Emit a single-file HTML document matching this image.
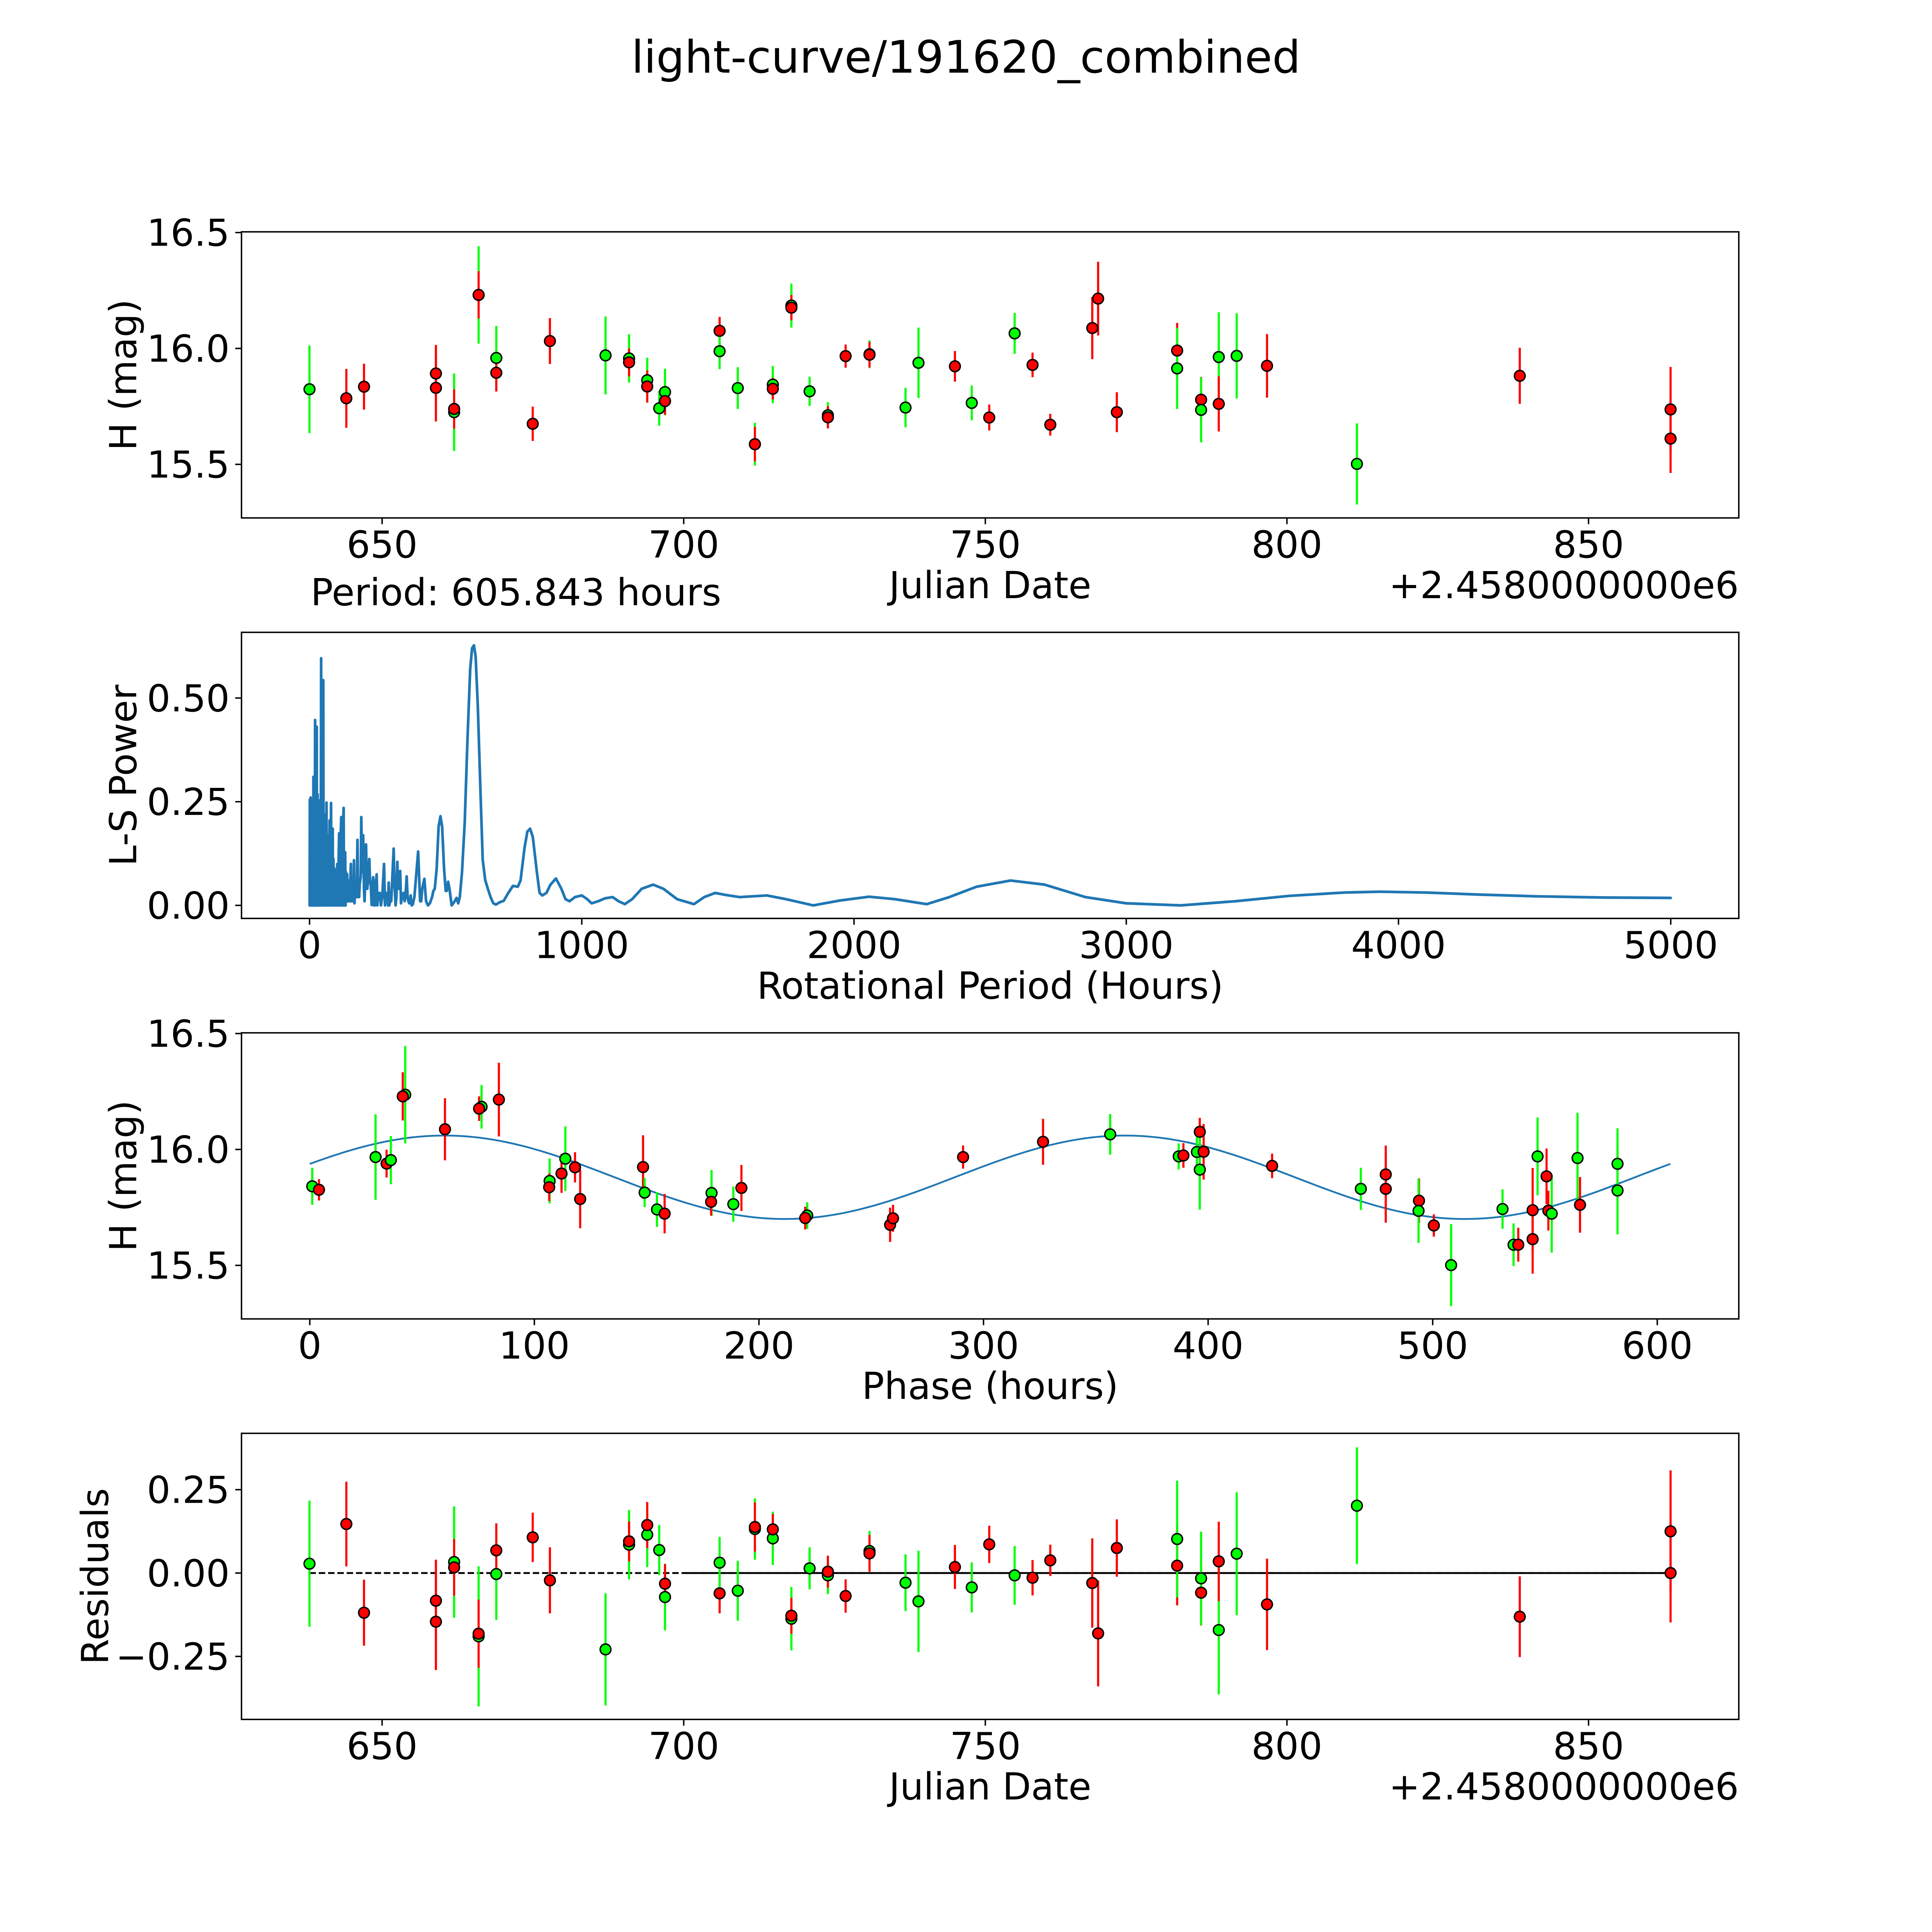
<!DOCTYPE html>
<html><head><meta charset="utf-8"><style>
html,body{margin:0;padding:0;background:#fff;overflow:hidden;width:100vw;height:100vh}
svg{display:block;width:100vw;height:100vh}
text{font-family:"DejaVu Sans","Liberation Sans",sans-serif;fill:#000}
</style></head><body>
<svg id="fig" viewBox="0 0 5400 5400" preserveAspectRatio="none" xmlns="http://www.w3.org/2000/svg">
<rect width="5400" height="5400" fill="#fff"/>
<text x="2700" y="203" font-size="125" text-anchor="middle">light-curve/191620_combined</text>
<text x="1442" y="1692" font-size="104" text-anchor="middle">Period: 605.843 hours</text>
</svg>
<script>
// ---- Panel 1 & 4 data (Julian date offset from 2458000) ----
const jd = [637.96,644.07,647.0,658.92,658.92,661.94,661.94,666.0,666.0,668.93,668.93,674.97,677.82,687.04,690.94,690.94,693.95,693.95,695.94,696.9,696.9,705.95,705.95,708.96,711.8,711.8,714.77,714.77,717.85,717.85,720.87,723.9,723.9,726.84,730.8,730.8,736.77,738.92,744.96,747.75,750.65,754.86,757.83,760.77,767.73,768.7,771.8,781.8,781.8,785.77,785.77,788.7,788.7,791.67,796.7,811.6,838.6,863.6,863.6];
const mag = [15.824,15.785,15.835,15.892,15.830,15.725,15.739,16.231,16.231,15.959,15.895,15.675,16.032,15.970,15.957,15.94,15.863,15.836,15.742,15.812,15.773,16.076,15.988,15.829,15.587,15.587,15.844,15.826,16.185,16.176,15.815,15.712,15.703,15.967,15.975,15.973,15.745,15.938,15.923,15.765,15.702,16.065,15.929,15.671,16.088,16.215,15.725,15.991,15.914,15.779,15.735,15.963,15.761,15.968,15.925,15.502,15.882,15.737,15.611];
const magErr = [0.189,0.127,0.099,0.123,0.145,0.167,0.085,0.21,0.102,0.138,0.081,0.074,0.099,0.168,0.104,0.06,0.097,0.069,0.075,0.10,0.059,0.06,0.077,0.09,0.092,0.074,0.08,0.046,0.095,0.054,0.063,0.056,0.048,0.05,0.06,0.055,0.085,0.152,0.066,0.075,0.056,0.088,0.053,0.047,0.134,0.159,0.086,0.119,0.175,0.098,0.14,0.193,0.119,0.184,0.137,0.175,0.121,0.183,0.148];
const band = ['g','r','r','r','r','g','r','g','r','g','r','r','r','g','g','r','g','r','g','g','r','r','g','g','g','r','g','r','g','r','g','g','r','r','g','r','g','g','r','g','r','g','r','r','r','r','r','r','g','r','g','g','r','g','r','g','r','r','r'];
const resid = [0.028,0.147,-0.119,-0.083,-0.146,0.033,0.017,-0.19,-0.182,-0.003,0.068,0.107,-0.022,-0.229,0.085,0.095,0.115,0.144,0.069,-0.072,-0.032,-0.061,0.031,-0.053,0.132,0.138,0.104,0.131,-0.137,-0.128,0.014,-0.007,0.004,-0.069,0.066,0.059,-0.029,-0.085,0.018,-0.043,0.086,-0.007,-0.014,0.038,-0.030,-0.181,0.075,0.022,0.102,-0.059,-0.016,-0.171,0.035,0.058,-0.094,0.202,-0.131,0.125,0.0];
// ---- Panel 3 data (folded) ----
const phase = [1.1,4.1,29.3,34.2,36.1,42.5,41.4,60.2,76.5,75.4,84.2,106.8,106.6,112.1,113.8,118.1,120.4,148.4,149.1,154.6,158.0,178.9,178.7,188.6,192.2,221.5,220.6,258.4,259.7,290.9,326.5,356.4,386.9,389.0,395.0,396.3,398.0,396.3,428.5,468.0,479.1,479.1,493.9,493.7,500.5,508.2,531.1,536.0,538.1,544.5,544.5,546.7,550.7,551.5,553.0,565.6,564.5,582.3,582.3];
const phaseMag = [15.841,15.826,15.967,15.939,15.954,16.236,16.229,16.087,16.184,16.176,16.215,15.864,15.837,15.896,15.96,15.923,15.786,15.924,15.814,15.741,15.723,15.812,15.774,15.764,15.834,15.715,15.704,15.675,15.703,15.967,16.033,16.065,15.97,15.974,15.989,16.076,15.99,15.913,15.929,15.83,15.892,15.83,15.779,15.735,15.672,15.501,15.743,15.589,15.589,15.738,15.613,15.97,15.884,15.736,15.723,15.761,15.963,15.938,15.823];
const phaseErr = [0.08,0.046,0.184,0.06,0.104,0.21,0.104,0.134,0.094,0.053,0.159,0.097,0.059,0.083,0.139,0.065,0.126,0.137,0.063,0.075,0.085,0.099,0.059,0.076,0.099,0.057,0.049,0.074,0.058,0.05,0.099,0.088,0.056,0.053,0.077,0.06,0.12,0.173,0.053,0.091,0.125,0.146,0.096,0.138,0.048,0.177,0.085,0.092,0.073,0.182,0.149,0.168,0.12,0.086,0.168,0.12,0.195,0.153,0.189];
const phaseBand = ['g','r','g','r','g','g','r','r','g','r','r','g','r','r','g','r','r','r','g','g','r','g','r','g','r','g','r','r','r','r','r','g','g','r','g','r','r','g','r','g','r','r','r','g','r','g','g','g','r','r','r','g','r','r','g','r','g','g','g'];
const modelMean = 15.88, modelAmp = 0.18, modelPeak = 60, modelHalfPeriod = 302.92, foldPeriod = 605.843;
// ---- Panel 2 data (Lomb-Scargle) ----
const lsPeriod = [0.3,1,1.8,2.5,3.2,4,4.8,5.5,6.2,7,7.8,8.5,9.2,10,10.8,11.5,12.2,13,13.6,14.2,14.9,15.6,16.3,17,17.7,18.4,19.1,20.3,21,21.8,22.5,23.2,24,24.8,25.6,26.5,27.3,28.1,28.8,29.5,30.2,31,31.8,32.6,33.4,34.7,35.5,36.3,37.1,38,38.8,39.6,40.4,41.5,42.6,43.6,44.5,45.3,46.2,47,48,48.9,50.4,51.5,52.5,53.5,54.5,55.5,56.5,57.5,58.5,59.5,60.5,61.4,62.3,63.3,64.5,65.5,66.5,67.5,68.5,69.5,70.5,71.5,72.6,73.7,74.8,76,77,79,80.2,81.5,82.7,84,85,86,87.8,89,90.5,91.5,92.5,93.7,95,96.5,98,99.5,101.8,103,104.5,106,107,108.6,110,111.5,113,114,116.4,117.8,119,120.5,122,125.2,126.5,128,129.5,130.9,132.3,134,135.5,138.2,140,142,144,146,148,151.7,153.5,156,158,160,161.5,163,165,167,169,171,173,176,178,180,182,184,186,188,190,192.5,194,197,200,202,204,207.5,210,212,215,217,219.4,222,225,228,231,233.5,236,238,240,243,246.5,249,252,255,258,262,267,273.6,277,280,283,286,288,290.7,293,297,300,308.9,312,316,319,322.5,325,328,332.9,336,339,342,345,349,352,356.8,360,363,366,371.3,375,379,385,390,398.8,406,410,414,421.7,428,435,442,450,455,460,467,474,480.8,487,494,500,504,509,514,522,528,533,540.3,546,552,560,570,580,590,597,603.8,610,618,628,636,645.3,655,665,675,684.6,700,713,730,747,765,775,790,800,810,820,835,845,855,870,885,905,925,940,955,975,1000,1020,1036,1060,1085,1113,1135,1158,1185,1220,1262,1300,1350,1412,1450,1490,1530,1580,1630,1680,1750,1850,1950,2055,2150,2267,2350,2450,2575,2700,2850,3000,3200,3400,3600,3800,3932,4100,4300,4500,4750,5000];
const lsPower = [0,0.255,0,0.24,0,0.26,0,0.2,0,0.23,0,0.21,0,0.19,0,0.22,0,0.25,0,0.31,0,0.2,0,0.27,0,0.2,0,0.447,0,0.25,0,0.22,0,0.3,0,0.431,0,0.2,0,0.268,0,0.2,0,0.23,0,0.253,0,0.2,0,0.18,0,0.15,0,0.2,0.596,0,0.2,0,0.18,0,0.25,0,0.543,0,0.2,0,0.22,0,0.18,0,0.15,0,0.2,0,0.248,0,0.14,0,0.17,0,0.13,0,0.15,0,0.12,0.205,0,0.16,0,0.247,0,0.14,0,0.15,0.185,0,0.112,0,0.09,0,0.086,0,0.07,0,0.08,0,0.10,0,0.08,0,0.12,0.174,0,0.12,0,0.16,0.213,0,0.15,0,0.18,0.235,0,0.1,0,0.128,0,0.08,0.01,0.075,0.01,0.06,0.01,0.06,0.01,0.10,0.01,0.06,0.01,0.04,0.01,0.109,0.005,0.04,0.02,0.05,0.02,0.158,0.02,0.03,0.02,0.05,0.06,0.07,0.213,0.12,0.08,0.169,0.04,0.01,0.05,0.147,0.06,0.04,0.06,0.09,0.112,0.06,0.05,0.001,0.05,0.068,0.0,0.06,0.0,0.05,0.075,0.0,0.03,0.02,0.03,0.0,0.02,0.10,0.0,0.03,0.025,0.03,0.0,0.055,0.0,0.015,0.01,0.137,0.05,0.0,0.02,0.105,0.04,0.04,0.083,0.005,0.02,0.02,0.03,0.01,0.02,0.070,0.02,0.01,0.005,0.024,0.0,0.002,0.02,0.06,0.13,0.01,0.01,0.04,0.064,0.01,0.0,0.005,0.02,0.035,0.04,0.09,0.19,0.215,0.19,0.09,0.035,0.035,0.057,0.04,0.0,0.005,0.01,0.018,0.005,0.02,0.08,0.2,0.4,0.57,0.62,0.627,0.6,0.48,0.27,0.11,0.061,0.04,0.02,0.005,0.002,0.008,0.011,0.03,0.047,0.045,0.06,0.14,0.178,0.185,0.165,0.08,0.03,0.024,0.03,0.05,0.065,0.04,0.015,0.01,0.02,0.024,0.015,0.005,0.01,0.017,0.02,0.01,0.003,0.015,0.04,0.05,0.04,0.015,0.003,0.02,0.03,0.025,0.02,0.022,0.024,0.015,0.0,0.012,0.021,0.015,0.003,0.02,0.045,0.06,0.05,0.02,0.005,0.0,0.01,0.023,0.031,0.033,0.031,0.026,0.022,0.019,0.018];
// ---- ticks ----
const jdTicks = [650,700,750,800,850];
const magTicks = [15.5,16.0,16.5];
const magTickLabels = ['15.5','16.0','16.5'];
const lsXTicks = [0,1000,2000,3000,4000,5000];
const lsYTicks = [0,0.25,0.5];
const lsYTickLabels = ['0.00','0.25','0.50'];
const phaseTicks = [0,100,200,300,400,500,600];
const residTicks = [-0.25,0,0.25];
const residTickLabels = ['\u22120.25','0.00','0.25'];

const NS='http://www.w3.org/2000/svg';
const svg=document.getElementById('fig');
const L=675,R=4860,H=799.6,FS=104;
const tops=[648,1767.4,2886.8,4006.2];
function mk(tag,attrs,parent){const e=document.createElementNS(NS,tag);for(const k in attrs)e.setAttribute(k,attrs[k]);(parent||svg).appendChild(e);return e;}
function lin(d0,d1,r0,r1){return v=>r0+(v-d0)/(d1-d0)*(r1-r0);}
const COL={r:'#ff0000',g:'#00ff00'};

function axes(i,name,xd,yd,xt,xtl,yt,ytl,xlabel,ylabel,ylabelX){
  const top=tops[i],bot=top+H;
  const g=mk('g',{});
  
  
  const sx=lin(xd[0],xd[1],L,R), sy=lin(yd[0],yd[1],bot,top);
  const plot=mk('g',{},g);
  
  
  const frame=mk('rect',{x:L,y:top,width:R-L,height:H,fill:'none',stroke:'#000','stroke-width':4},g);
  
  
  xt.forEach((v,k)=>{const x=sx(v);
    const t=mk('line',{x1:x,x2:x,y1:bot,y2:bot+17.5,stroke:'#000','stroke-width':4},g);
    
    
    const tx=mk('text',{x:x,y:bot+111,'font-size':FS,'text-anchor':'middle'},g);
    tx.textContent=xtl[k];
    
    });
  yt.forEach((v,k)=>{const y=sy(v);
    const t=mk('line',{x1:L-17.5,x2:L,y1:y,y2:y,stroke:'#000','stroke-width':4},g);
    
    
    const tx=mk('text',{x:L-33,y:y+37,'font-size':FS,'text-anchor':'end'},g);
    tx.textContent=ytl[k];
    
    });
  const xl=mk('text',{x:(L+R)/2,y:bot+224,'font-size':FS,'text-anchor':'middle'},g);
  xl.textContent=xlabel;
  
  
  const cy=top+H/2;
  const yl=mk('text',{x:ylabelX,y:cy,'font-size':FS,'text-anchor':'middle','dominant-baseline':'central',transform:`rotate(-90 ${ylabelX} ${cy})`},g);
  yl.textContent=ylabel;
  
  
  return {sx,sy,plot,g,bot,top};
}
function errPoints(ax,xs,ys,es,cs){
  xs.forEach((v,k)=>{const x=ax.sx(v);
    const l=mk('line',{x1:x,x2:x,y1:ax.sy(ys[k]-es[k]),y2:ax.sy(ys[k]+es[k]),stroke:COL[cs[k]],'stroke-width':6},ax.plot);
    
    });
  xs.forEach((v,k)=>{
    const c=mk('circle',{cx:ax.sx(v),cy:ax.sy(ys[k]),r:15,fill:COL[cs[k]],stroke:'#000','stroke-width':4},ax.plot);
    
    });
}
const jdStr=jdTicks.map(String);
const JDX=[626.69,874.91];
// Panel 1
const a1=axes(0,'light-curve-panel',JDX,[15.269,16.503],jdTicks,jdStr,magTicks,magTickLabels,'Julian Date','H (mag)',345);
errPoints(a1,jd,mag,magErr,band);
const off1=mk('text',{x:R,y:a1.bot+224,'font-size':FS,'text-anchor':'end'},a1.g);
off1.textContent='+2.4580000000e6';


// Panel 2
const a2=axes(1,'periodogram-panel',[-250,5250],[-0.0314,0.6584],lsXTicks,lsXTicks.map(String),lsYTicks,lsYTickLabels,'Rotational Period (Hours)','L-S Power',345);
const lsPath=mk('path',{d:lsPeriod.map((p,k)=>(k?'L':'M')+a2.sx(p).toFixed(1)+' '+a2.sy(lsPower[k]).toFixed(1)).join(''),fill:'none',stroke:'#1f77b4','stroke-width':7.5,'stroke-linejoin':'round','stroke-linecap':'round'},a2.plot);


// Panel 3
const a3=axes(2,'phase-folded-panel',[-30.4,636.3],[15.269,16.503],phaseTicks,phaseTicks.map(String),magTicks,magTickLabels,'Phase (hours)','H (mag)',345);
let d='';
for(let k=0;k<=200;k++){const p=foldPeriod*k/200;const m=modelMean+modelAmp*Math.cos(2*Math.PI*(p-modelPeak)/modelHalfPeriod);d+=(k?'L':'M')+a3.sx(p).toFixed(1)+' '+a3.sy(m).toFixed(1);}
const model=mk('path',{d:d,fill:'none',stroke:'#1f77b4','stroke-width':5},a3.plot);


errPoints(a3,phase,phaseMag,phaseErr,phaseBand);
// Panel 4
const a4=axes(3,'residuals-panel',JDX,[-0.439,0.419],jdTicks,jdStr,residTicks,residTickLabels,'Julian Date','Residuals',266);
const zx0=a4.sx(Math.min(...jd)),zx1=a4.sx(Math.max(...jd)),zy=a4.sy(0);
const z1=mk('line',{x1:zx0,x2:zx1,y1:zy,y2:zy,stroke:'#000','stroke-width':5,'stroke-dasharray':'18 8'},a4.plot);


const z2=mk('line',{x1:a4.sx(700),x2:zx1,y1:zy,y2:zy,stroke:'#000','stroke-width':5},a4.plot);


errPoints(a4,jd,resid,magErr,band);
const off4=mk('text',{x:R,y:a4.bot+224,'font-size':FS,'text-anchor':'end'},a4.g);
off4.textContent='+2.4580000000e6';


</script>
</body></html>
